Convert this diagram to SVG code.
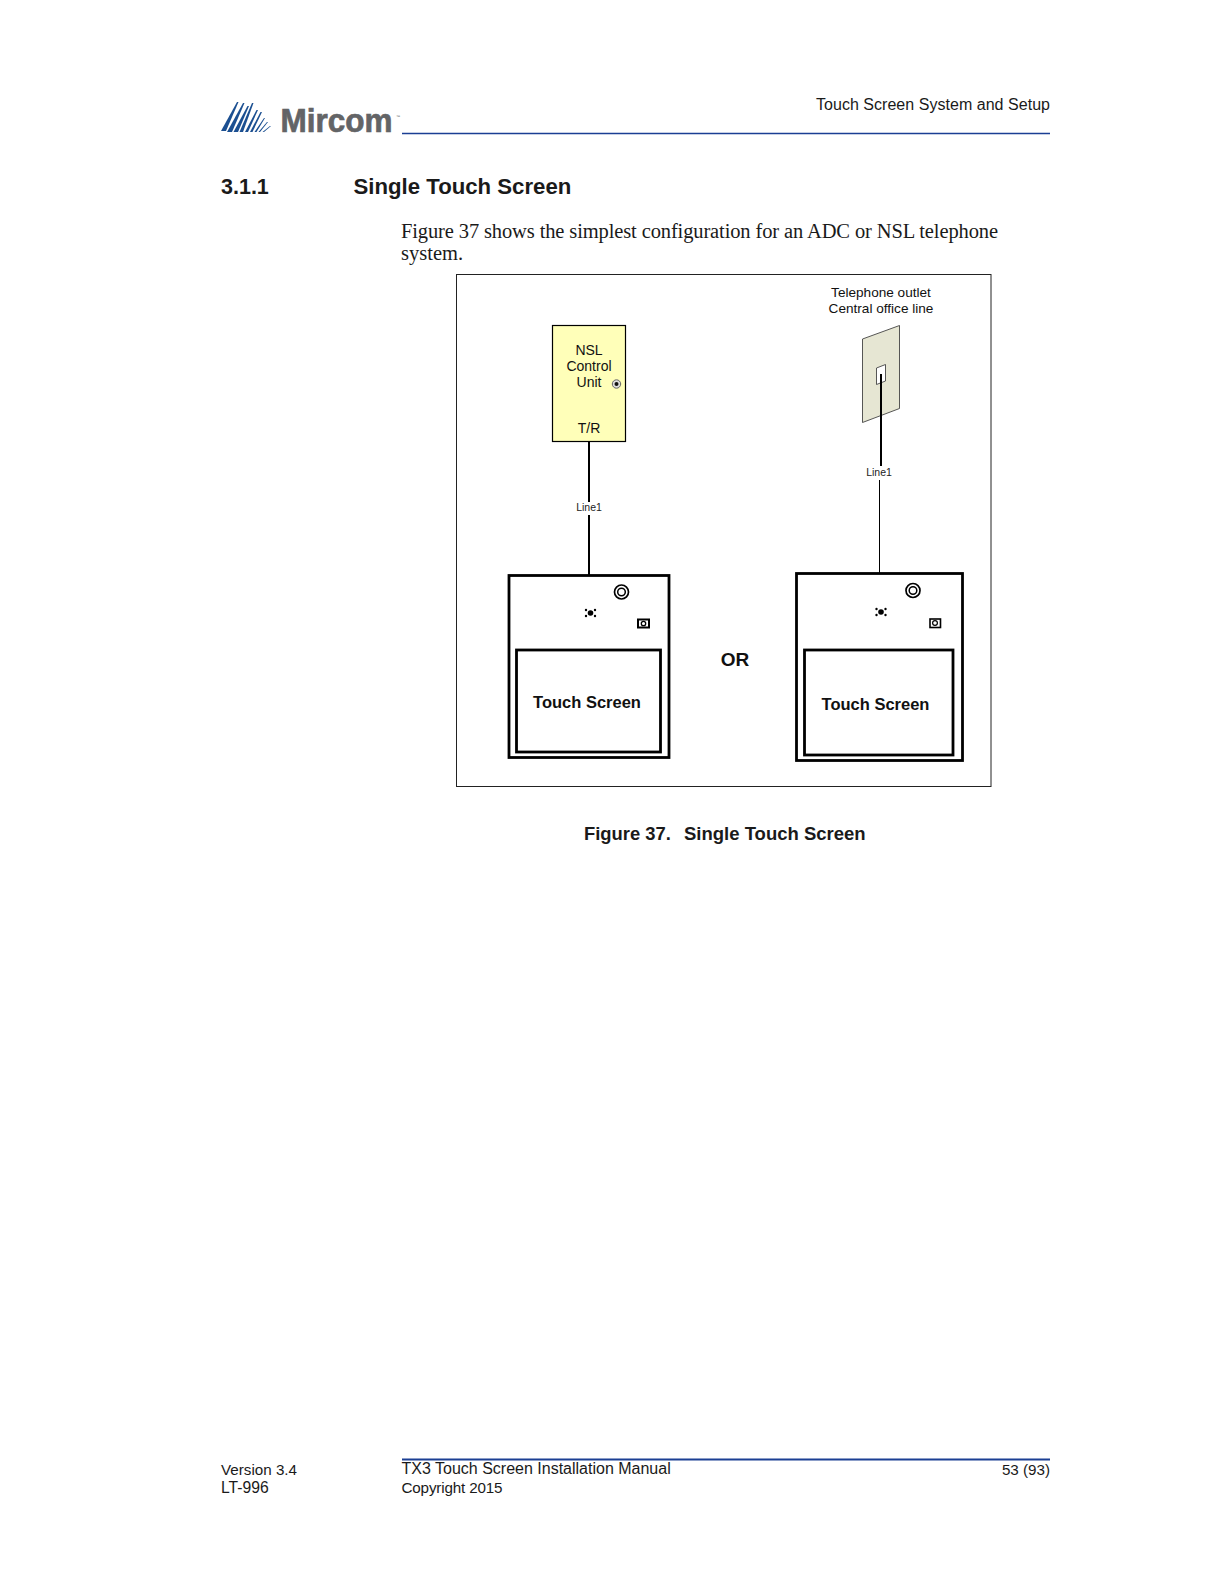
<svg xmlns="http://www.w3.org/2000/svg" width="1219" height="1582" viewBox="0 0 1219 1582">
<style>
text{font-family:"Liberation Sans",Arial,sans-serif;fill:#1a1a1a}
.s{fill:none;stroke:#000}
.t{font-size:16px}
.f{font-size:15.2px}
.b{font-weight:bold}
.d{font-size:14px;fill:#111}
.o{font-size:13.6px;fill:#111}
.l{font-size:10.5px;fill:#222}
.c{text-anchor:middle}
.ts{font-size:16.5px;font-weight:bold;fill:#111}
.stripe{fill:#1b4f91}
.body{font-family:"Liberation Serif","Times New Roman",serif;font-size:20.5px}
</style>
<rect width="1219" height="1582" fill="#fff"/>
<g id="header">
<g id="logo-mark" class="stripe">
<polygon points="221,131 226,131 238.500,102 237,102"/>
<polygon points="227,132 232,132 244.500,103 243,103"/>
<polygon points="233.500,132 238,132 249,106 247.500,106"/>
<polygon points="239.500,132 243,132 253.500,103 252,103"/>
<polygon points="245,132 248,132 258,110 256.500,110"/>
<polygon points="250,132 252.500,132 262,112 260.500,112"/>
<polygon points="254.500,132 256.500,132 265,118 264,118"/>
<polygon points="258.500,132 260,132 268,122 267,122"/>
<polygon points="262.500,132 264,132 271,126 270,126"/>
</g>
<text x="280.500" y="132" font-size="33" font-weight="bold" style="fill:#636466;stroke:#636466;stroke-width:.7" textLength="112" lengthAdjust="spacingAndGlyphs">Mircom</text>
<text x="396" y="118" font-size="4" style="fill:#58595b">™</text>
<text x="1050" y="110" class="t" text-anchor="end" textLength="234">Touch Screen System and Setup</text>
<line x1="402" y1="133.500" x2="1050" y2="133.500" stroke="#1b3f94" stroke-width="1.300"/>
</g>
<text x="221" y="193.500" font-size="21.500" font-weight="bold" fill="#111">3.1.1</text>
<text x="353.500" y="193.500" font-size="22.200" font-weight="bold">Single Touch Screen</text>
<text x="401" y="238" class="body" textLength="597">Figure 37 shows the simplest configuration for an ADC or NSL telephone</text>
<text x="401" y="260" class="body">system.</text>
<rect id="figure-frame" x="456.500" y="274.500" width="534.500" height="512" fill="#fff" stroke="#222" stroke-width="1"/>
<g id="connectors">
<line class="s" x1="589" y1="442" x2="589" y2="502" stroke-width="2"/>
<line class="s" x1="589" y1="515" x2="589" y2="575" stroke-width="2"/>
<line class="s" x1="879.500" y1="480" x2="879.500" y2="573" stroke-width="1"/>
</g>
<g id="nsl-control-unit">
<rect x="552.500" y="325.500" width="73" height="116" fill="#ffffb9" stroke="#000" stroke-width="1.200"/>
<text x="589" y="355" class="d c">NSL</text>
<text x="589" y="371" class="d c">Control</text>
<text x="589" y="387" class="d c">Unit</text>
<text x="589" y="433" class="d c">T/R</text>
<circle cx="616.500" cy="384" r="4.200" fill="#ddd" stroke="#666" stroke-width="1"/>
<circle cx="616.500" cy="384" r="2" fill="#111"/>
</g>
<text x="589" y="511" class="l c">Line1</text>
<g id="telephone-outlet">
<text x="881" y="297" class="o c">Telephone outlet</text>
<text x="881" y="313" class="o c">Central office line</text>
<polygon points="862.500,339 899.500,325.500 899.500,408.500 862.500,422.500" fill="#e6e6d3" stroke="#444" stroke-width=".9"/>
<polygon points="876.500,368 885.500,364.500 885.500,381 876.500,384.500" fill="#fff" stroke="#444" stroke-width=".9"/>
<line class="s" x1="881" y1="374" x2="881" y2="466" stroke-width="2"/>
<text x="879" y="476" class="l c">Line1</text>
</g>
<g id="touch-screen-1">
<rect x="509" y="575.500" width="160" height="182" fill="#fff" stroke="#000" stroke-width="2.800"/>
<rect x="516.500" y="650" width="144" height="102" fill="#fff" stroke="#000" stroke-width="2.800"/>
<circle cx="621.500" cy="592" r="7" fill="none" stroke="#000" stroke-width="1.700"/>
<circle cx="621.500" cy="592" r="3.800" fill="none" stroke="#000" stroke-width="1.500"/>
<circle cx="590.500" cy="613" r="2.800" fill="#000"/>
<g fill="#000"><circle cx="586" cy="610" r="1.200"/><circle cx="595" cy="610" r="1.200"/><circle cx="586" cy="616" r="1.200"/><circle cx="595" cy="616" r="1.200"/></g>
<rect x="638" y="619.500" width="11" height="8" fill="#fff" stroke="#000" stroke-width="2"/>
<circle cx="643.500" cy="623.500" r="2.200" fill="none" stroke="#000" stroke-width="1.300"/>
<text x="587" y="708" class="ts c">Touch Screen</text>
</g>
<text x="735" y="666" font-size="19" font-weight="bold" class="c" style="fill:#111">OR</text>
<g id="touch-screen-2">
<rect x="796.500" y="573.500" width="166" height="187" fill="#fff" stroke="#000" stroke-width="2.800"/>
<rect x="804.500" y="650" width="148.500" height="105" fill="#fff" stroke="#000" stroke-width="2.800"/>
<circle cx="913" cy="590.500" r="7" fill="none" stroke="#000" stroke-width="1.700"/>
<circle cx="913" cy="590.500" r="3.800" fill="none" stroke="#000" stroke-width="1.500"/>
<circle cx="881" cy="612" r="2.800" fill="#000"/>
<g fill="#000"><circle cx="876.500" cy="609" r="1.200"/><circle cx="885.500" cy="609" r="1.200"/><circle cx="876.500" cy="615" r="1.200"/><circle cx="885.500" cy="615" r="1.200"/></g>
<rect x="930" y="619" width="10.500" height="8.500" fill="#fff" stroke="#000" stroke-width="1.600"/>
<circle cx="935" cy="623" r="2.400" fill="none" stroke="#000" stroke-width="1.200"/>
<text x="875.500" y="710" class="ts c">Touch Screen</text>
</g>
<text x="584" y="840" font-size="18.400" font-weight="bold">Figure 37.</text>
<text x="684" y="840" font-size="18.500" font-weight="bold">Single Touch Screen</text>
<g id="footer">
<line x1="402" y1="1459.500" x2="1050" y2="1459.500" stroke="#1b3f94" stroke-width="2"/>
<text x="221" y="1474.500" class="f">Version 3.4</text>
<text x="221" y="1493" font-size="15.700">LT-996</text>
<text x="401.500" y="1474" class="t">TX3 Touch Screen Installation Manual</text>
<text x="401.500" y="1493" class="f" textLength="101">Copyright 2015</text>
<text x="1050" y="1474.500" class="f" text-anchor="end">53 (93)</text>
</g>
</svg>
